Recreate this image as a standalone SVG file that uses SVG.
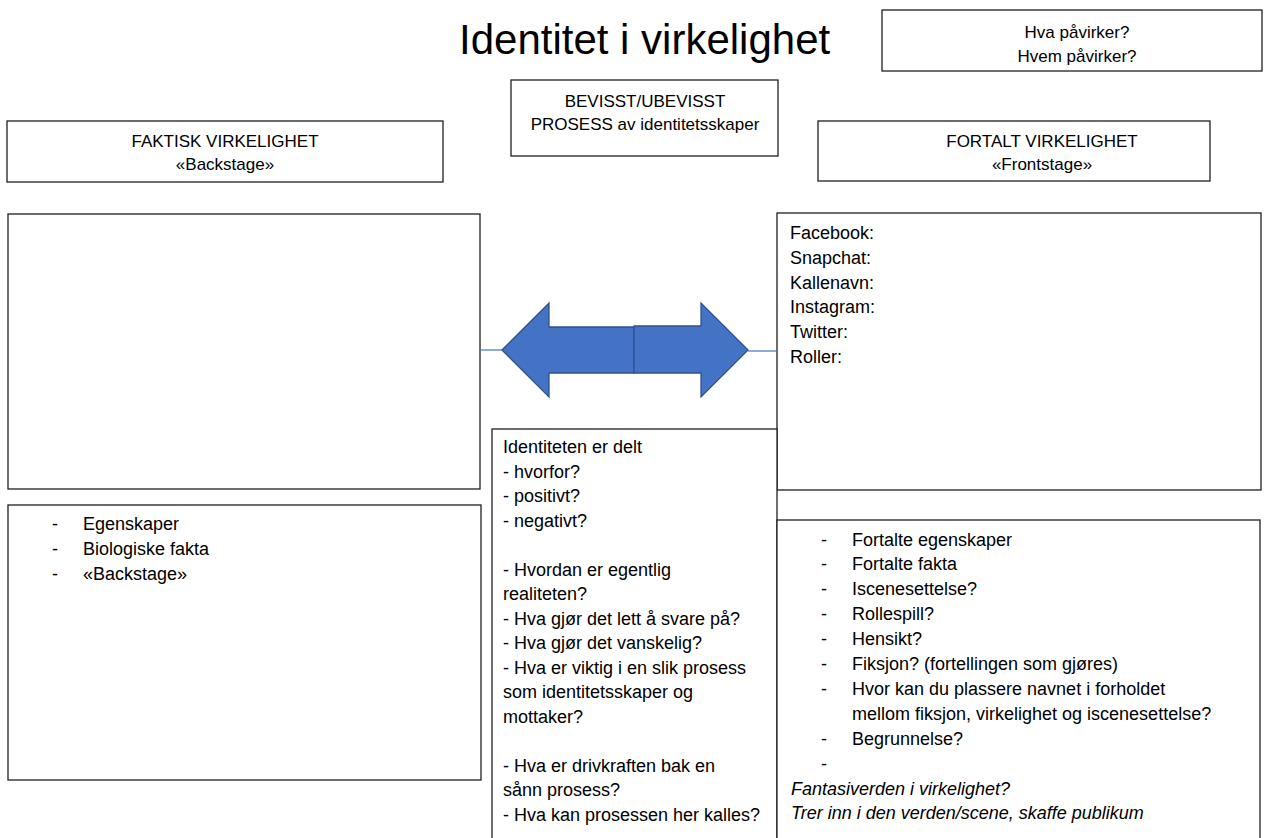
<svg xmlns="http://www.w3.org/2000/svg" width="1273" height="838" viewBox="0 0 1273 838">
  <style>
    .box { fill: #ffffff; stroke: #1f1f1f; stroke-width: 1.3; }
    .t { font-family: "Liberation Sans", Arial, sans-serif; font-size: 18px; fill: #000000; }
    .hd { font-family: "Liberation Sans", Arial, sans-serif; font-size: 17px; fill: #000000; text-anchor: middle; }
    .title { font-family: "Liberation Sans", Arial, sans-serif; font-size: 42px; fill: #000000; }
    .it { font-style: italic; }
    .arrow { fill: #4472C4; stroke: #2F528F; stroke-width: 1.3; stroke-linejoin: miter; }
    .link { stroke: #4472C4; stroke-width: 1.2; fill: none; }
  </style>
  <rect x="0" y="0" width="1273" height="838" fill="#ffffff"/>

  <!-- title -->
  <text id="title" class="title" x="459" y="54">Identitet i virkelighet</text>

  <!-- question box top right -->
  <g id="hva-pavirker">
    <rect class="box" x="882" y="10" width="380" height="61"/>
    <text class="hd" x="1077" y="38">Hva påvirker?</text>
    <text class="hd" x="1077" y="62">Hvem påvirker?</text>
  </g>

  <!-- process heading -->
  <g id="prosess">
    <rect class="box" x="511" y="80" width="267" height="76"/>
    <text class="hd" x="645" y="107">BEVISST/UBEVISST</text>
    <text class="hd" x="645" y="130">PROSESS av identitetsskaper</text>
  </g>

  <!-- left heading -->
  <g id="faktisk">
    <rect class="box" x="7" y="121" width="436" height="61"/>
    <text class="hd" x="225" y="147">FAKTISK VIRKELIGHET</text>
    <text class="hd" x="225" y="170">«Backstage»</text>
  </g>

  <!-- right heading -->
  <g id="fortalt">
    <rect class="box" x="818" y="121" width="392" height="60"/>
    <text class="hd" x="1042" y="147">FORTALT VIRKELIGHET</text>
    <text class="hd" x="1042" y="170">«Frontstage»</text>
  </g>

  <!-- left empty box -->
  <g id="faktisk-felt">
    <rect class="box" x="8" y="214" width="472" height="275"/>
  </g>

  <!-- right box with platforms -->
  <g id="fortalt-felt">
    <rect class="box" x="777" y="213" width="484" height="277"/>
    <text class="t" x="790" y="239">Facebook:</text>
    <text class="t" x="790" y="264">Snapchat:</text>
    <text class="t" x="790" y="289">Kallenavn:</text>
    <text class="t" x="790" y="313">Instagram:</text>
    <text class="t" x="790" y="338">Twitter:</text>
    <text class="t" x="790" y="363">Roller:</text>
  </g>

  <!-- connectors and double arrow -->
  <g id="connectors">
    <line class="link" x1="480" y1="350" x2="502" y2="350"/>
    <line class="link" x1="748" y1="351" x2="777" y2="351"/>
    <polygon class="arrow" points="502,350 549,303 549,327 634,327 634,373 549,373 549,397"/>
    <polygon class="arrow" points="748,350 701,303 701,326 634,326 634,373 701,373 701,397"/>
  </g>

  <!-- left lower box -->
  <g id="egenskaper">
    <rect class="box" x="8" y="505" width="473" height="275"/>
    <text class="t" x="52" y="530">-</text>
    <text class="t" x="83" y="530">Egenskaper</text>
    <text class="t" x="52" y="555">-</text>
    <text class="t" x="83" y="555">Biologiske fakta</text>
    <text class="t" x="52" y="580">-</text>
    <text class="t" x="83" y="580">«Backstage»</text>
  </g>

  <!-- middle question box -->
  <g id="identitet-delt">
    <rect class="box" x="492" y="429" width="285" height="430"/>
    <text class="t" x="503" y="453">Identiteten er delt</text>
    <text class="t" x="503" y="477.5">- hvorfor?</text>
    <text class="t" x="503" y="502">- positivt?</text>
    <text class="t" x="503" y="526.5">- negativt?</text>
    <text class="t" x="503" y="575.5">- Hvordan er egentlig</text>
    <text class="t" x="503" y="600">realiteten?</text>
    <text class="t" x="503" y="624.5">- Hva gjør det lett å svare på?</text>
    <text class="t" x="503" y="649">- Hva gjør det vanskelig?</text>
    <text class="t" x="503" y="673.5">- Hva er viktig i en slik prosess</text>
    <text class="t" x="503" y="698">som identitetsskaper og</text>
    <text class="t" x="503" y="722.5">mottaker?</text>
    <text class="t" x="503" y="771.5">- Hva er drivkraften bak en</text>
    <text class="t" x="503" y="796">sånn prosess?</text>
    <text class="t" x="503" y="820.5">- Hva kan prosessen her kalles?</text>
  </g>

  <!-- right lower box -->
  <g id="fortalte-egenskaper">
    <rect class="box" x="777" y="520" width="483" height="340"/>
    <text class="t" x="821" y="545.5">-</text>
    <text class="t" x="852" y="545.5">Fortalte egenskaper</text>
    <text class="t" x="821" y="570.4">-</text>
    <text class="t" x="852" y="570.4">Fortalte fakta</text>
    <text class="t" x="821" y="595.3">-</text>
    <text class="t" x="852" y="595.3">Iscenesettelse?</text>
    <text class="t" x="821" y="620.2">-</text>
    <text class="t" x="852" y="620.2">Rollespill?</text>
    <text class="t" x="821" y="645.1">-</text>
    <text class="t" x="852" y="645.1">Hensikt?</text>
    <text class="t" x="821" y="670">-</text>
    <text class="t" x="852" y="670">Fiksjon? (fortellingen som gjøres)</text>
    <text class="t" x="821" y="694.9">-</text>
    <text class="t" x="852" y="694.9">Hvor kan du plassere navnet i forholdet</text>
    <text class="t" x="852" y="719.8">mellom fiksjon, virkelighet og iscenesettelse?</text>
    <text class="t" x="821" y="744.7">-</text>
    <text class="t" x="852" y="744.7">Begrunnelse?</text>
    <text class="t" x="821" y="769.6">-</text>
    <text class="t it" x="791" y="794.5">Fantasiverden i virkelighet?</text>
    <text class="t it" x="791" y="819.4">Trer inn i den verden/scene, skaffe publikum</text>
  </g>
</svg>
